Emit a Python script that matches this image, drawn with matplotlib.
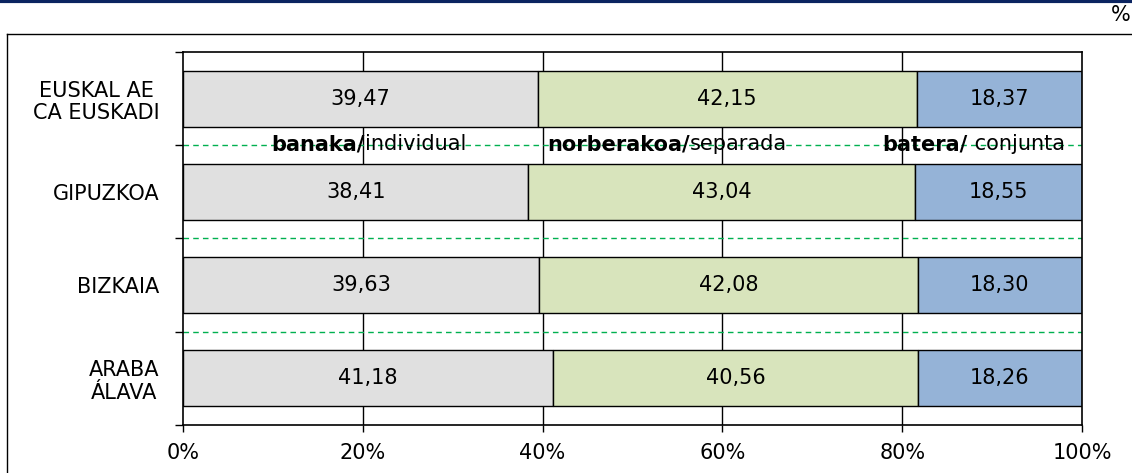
import matplotlib.pyplot as plt
import numpy as np

# datos (de abajo hacia arriba)
territorios = ["ARABA\nÁLAVA", "BIZKAIA", "GIPUZKOA", "EUSKAL AE\nCA EUSKADI"]
banaka = [41.18, 39.63, 38.41, 39.47]
norberakoa = [40.56, 42.08, 43.04, 42.15]
batera = [18.26, 18.30, 18.55, 18.37]

colores = ["#E0E0E0", "#D8E4BC", "#95B3D7"]
series = [banaka, norberakoa, batera]
fs = 15

plt.rcParams['font.family'] = ['DejaVu Sans']
fig = plt.figure(figsize=(11.32, 4.73), dpi=100)

# marco exterior y linea azul superior
fig.add_artist(plt.Line2D([0, 1], [0.998, 0.998], color="#0B2460", lw=3, transform=fig.transFigure))
fig.add_artist(plt.Line2D([7/1132, 1], [1 - 34/473, 1 - 34/473], color="black", lw=1, transform=fig.transFigure))
fig.add_artist(plt.Line2D([7/1132, 7/1132], [0, 1 - 34/473], color="black", lw=1, transform=fig.transFigure))
fig.text(1131/1132, 1 - 15/473, "%", fontsize=fs, ha="right", va="center")

ax = fig.add_axes([183/1132, 48/473, 899/1132, 373/473])
y = np.arange(len(territorios))
left = np.zeros(len(territorios))
for vals, col in zip(series, colores):
    bars = ax.barh(y, vals, left=left, height=0.6, color=col, edgecolor="black", lw=1, zorder=2)
    for b, v in zip(bars, vals):
        ax.text(b.get_x() + b.get_width() / 2, b.get_y() + b.get_height() / 2,
                f"{v:.2f}".replace(".", ","), ha="center", va="center", fontsize=fs, zorder=3)
    left += np.array(vals)

ax.set_xlim(0, 100)
ax.set_ylim(-0.5, 3.5)
ax.set_xticks([0, 20, 40, 60, 80, 100])
ax.set_xticklabels(["0%", "20%", "40%", "60%", "80%", "100%"], fontsize=fs)
for xv in [20, 40, 60, 80]:
    ax.axvline(xv, color="black", lw=1, zorder=1)

ax.set_yticks(y)
ax.set_yticklabels(territorios, fontsize=fs, multialignment="center", linespacing=1.15)
ax.tick_params(axis="y", which="major", length=0, pad=17)
ax.set_yticks([-0.5, 0.5, 1.5, 2.5, 3.5], minor=True)
ax.tick_params(axis="y", which="minor", length=6, width=1, direction="out")
ax.tick_params(axis="x", length=5, width=1, pad=8)

for yb in [0.5, 1.5, 2.5]:
    ax.axhline(yb, color="#00B050", lw=1, ls=(0, (4, 3)), zorder=1.5)

for s in ax.spines.values():
    s.set_linewidth(1.2)
    s.set_color("black")

# leyenda en la linea
ley = [(20.2, "banaka/", "individual"), (56.4, "norberakoa/", "separada"), (87.3, "batera/", " conjunta")]
for xp, neg, norm in ley:
    ax.text(xp, 2.51, neg, ha="right", va="center", fontsize=fs, fontweight="bold", zorder=4)
    ax.text(xp, 2.51, norm, ha="left", va="center", fontsize=fs, zorder=4)

fig.savefig("out.png", dpi=100)
